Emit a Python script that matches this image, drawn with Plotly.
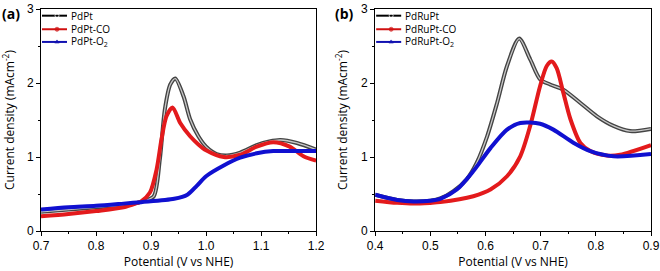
import plotly.graph_objects as go

# ---------------- Panel (a) data ----------------
a_pdpt_x = [0.70, 0.75, 0.80, 0.85, 0.875, 0.89, 0.905, 0.916, 0.925, 0.935, 0.944, 0.959, 0.971, 0.986, 1.00, 1.019, 1.038, 1.062, 1.092, 1.115, 1.135, 1.165, 1.20]
a_pdpt_y = [0.26, 0.29, 0.32, 0.35, 0.38, 0.41, 0.47, 0.97, 1.64, 1.98, 2.06, 1.82, 1.51, 1.28, 1.14, 1.04, 1.02, 1.06, 1.16, 1.21, 1.23, 1.19, 1.10]

a_co_x = [0.70, 0.75, 0.80, 0.85, 0.875, 0.882, 0.898, 0.910, 0.919, 0.928, 0.939, 0.953, 0.971, 0.986, 1.00, 1.032, 1.062, 1.092, 1.122, 1.152, 1.177, 1.20]
a_co_y = [0.20, 0.23, 0.27, 0.32, 0.38, 0.40, 0.52, 0.83, 1.24, 1.55, 1.67, 1.46, 1.28, 1.17, 1.09, 1.00, 1.03, 1.14, 1.20, 1.14, 1.01, 0.95]

a_o2_x = [0.70, 0.75, 0.80, 0.85, 0.882, 0.942, 0.966, 0.983, 1.00, 1.032, 1.062, 1.092, 1.122, 1.16, 1.20]
a_o2_y = [0.29, 0.32, 0.34, 0.37, 0.39, 0.435, 0.49, 0.61, 0.74, 0.885, 0.99, 1.05, 1.08, 1.08, 1.08]

# ---------------- Panel (b) data ----------------
b_pdrupt_x = [0.40, 0.44, 0.47, 0.50, 0.518, 0.542, 0.566, 0.584, 0.603, 0.621, 0.639, 0.661, 0.681, 0.699, 0.717, 0.741, 0.772, 0.802, 0.832, 0.862, 0.90]
b_pdrupt_y = [0.49, 0.42, 0.40, 0.41, 0.44, 0.54, 0.70, 0.92, 1.28, 1.73, 2.23, 2.60, 2.32, 2.05, 1.98, 1.91, 1.73, 1.55, 1.42, 1.35, 1.38]

b_co_x = [0.40, 0.44, 0.47, 0.50, 0.518, 0.578, 0.609, 0.639, 0.663, 0.681, 0.699, 0.711, 0.720, 0.729, 0.741, 0.754, 0.772, 0.79, 0.82, 0.844, 0.90]
b_co_y = [0.41, 0.38, 0.37, 0.38, 0.39, 0.47, 0.56, 0.74, 1.01, 1.42, 1.96, 2.23, 2.29, 2.20, 1.87, 1.51, 1.19, 1.08, 1.02, 1.03, 1.16]

b_o2_x = [0.40, 0.44, 0.47, 0.50, 0.518, 0.548, 0.578, 0.609, 0.639, 0.663, 0.699, 0.723, 0.76, 0.79, 0.832, 0.90]
b_o2_y = [0.49, 0.42, 0.40, 0.41, 0.435, 0.56, 0.81, 1.12, 1.37, 1.46, 1.45, 1.37, 1.19, 1.08, 1.01, 1.04]

a_names = ["PdPt", "PdPt-CO", "PdPt-O<sub>2</sub>"]
b_names = ["PdRuPt", "PdRuPt-CO", "PdRuPt-O<sub>2</sub>"]
panel_labels = ["(a)", "(b)"]

x_title = "Potential (V vs NHE)"
y_title = "Current density (mAcm<sup>-2</sup>)"

RED = "#e31a1c"
BLUE = "#1010d0"
DARK = "#444444"

# figure geometry (pixels)
W, H = 660, 271
ML, MR, MT, MB = 41, 9.3, 9, 39.5
PW = W - ML - MR
A_DOM = [0, (316 - ML) / PW]
B_DOM = [(375 - ML) / PW, 1]

fig = go.Figure()

def add_black(x, y, xa, ya):
    fig.add_trace(go.Scatter(x=x, y=y, mode="lines", line=dict(color=DARK, width=4, shape="spline", smoothing=0.8),
                             xaxis=xa, yaxis=ya, showlegend=False, hoverinfo="skip"))
    fig.add_trace(go.Scatter(x=x, y=y, mode="lines", line=dict(color="#c8c8c8", width=1.3, shape="spline", smoothing=0.8),
                             xaxis=xa, yaxis=ya, showlegend=False, hoverinfo="skip"))

def add_line(x, y, color, xa, ya):
    fig.add_trace(go.Scatter(x=x, y=y, mode="lines", line=dict(color=color, width=4, shape="spline", smoothing=0.8),
                             xaxis=xa, yaxis=ya, showlegend=False))

add_black(a_pdpt_x, a_pdpt_y, "x", "y")
add_line(a_co_x, a_co_y, RED, "x", "y")
add_line(a_o2_x, a_o2_y, BLUE, "x", "y")
add_black(b_pdrupt_x, b_pdrupt_y, "x2", "y2")
add_line(b_co_x, b_co_y, RED, "x2", "y2")
add_line(b_o2_x, b_o2_y, BLUE, "x2", "y2")

# ---- manual legends on a pixel-space overlay axis ----
leg_styles = [("black", "circle-open", "white"), ("#d01010", "circle", "#d01010"), ("#1010b0", "triangle-up", "#1010b0")]
leg_rows = [15.7, 29.3, 42.0]
annotations = []
for x0, names in ((42, a_names), (376, b_names)):
    for (col, sym, mcol), yy, name in zip(leg_styles, leg_rows, names):
        fig.add_trace(go.Scatter(x=[x0, x0 + 15, x0 + 25], y=[yy, yy, yy], mode="lines+markers",
                                 line=dict(color=col, width=2),
                                 marker=dict(symbol=sym, size=[0, 4, 0], color=mcol, line=dict(color=col, width=1)),
                                 xaxis="x3", yaxis="y3", showlegend=False, hoverinfo="skip"))
        annotations.append(dict(text=name, x=x0 + 27, y=yy, xref="x3", yref="y3", xanchor="left", yanchor="middle",
                                showarrow=False, font=dict(family="Open Sans", size=10, color="black")))

annotations.append(dict(text="<b>" + panel_labels[0] + "</b>", x=0, y=1, xref="paper", yref="paper",
                        xanchor="left", yanchor="top", yshift=7, xshift=-ML,
                        showarrow=False, font=dict(family="Open Sans", size=14, color="black")))
annotations.append(dict(text="<b>" + panel_labels[1] + "</b>", x=(333 - ML) / PW, y=1, xref="paper", yref="paper",
                        xanchor="left", yanchor="top", yshift=7,
                        showarrow=False, font=dict(family="Open Sans", size=14, color="black")))

FONT = "Liberation Sans"
TITLE_FONT = "Open Sans"

def xaxis_cfg(domain, rng, anchor):
    return dict(domain=domain, range=rng, dtick=0.1, tick0=rng[0], tickformat=".1f", anchor=anchor,
                showline=True, linecolor="black", linewidth=1, mirror=True, automargin=False,
                ticks="outside", ticklen=4, tickcolor="black", showgrid=False, zeroline=False,
                ticklabeloverflow="allow",
                minor=dict(dtick=0.05, ticks="outside", ticklen=2, tickcolor="black", showgrid=False),
                tickfont=dict(family=FONT, size=12, color="black"),
                title=dict(text=x_title, font=dict(family=TITLE_FONT, size=12, color="black"), standoff=4))

def yaxis_cfg(anchor):
    return dict(domain=[0, 1], range=[0, 3], dtick=1, anchor=anchor,
                showline=True, linecolor="black", linewidth=1, mirror=True, automargin=False,
                ticks="outside", ticklen=4, tickcolor="black", showgrid=False, zeroline=False,
                minor=dict(dtick=0.5, ticks="outside", ticklen=2, tickcolor="black", showgrid=False),
                tickfont=dict(family=FONT, size=12, color="black"),
                title=dict(text=y_title, font=dict(family=TITLE_FONT, size=12, color="black"), standoff=10))

fig.update_layout(
    width=W, height=H,
    margin=dict(l=ML, r=MR, t=MT, b=MB),
    paper_bgcolor="white", plot_bgcolor="rgba(0,0,0,0)",
    xaxis=xaxis_cfg(A_DOM, [0.7, 1.2], "y"),
    yaxis=yaxis_cfg("x"),
    xaxis2=xaxis_cfg(B_DOM, [0.4, 0.9], "y2"),
    yaxis2=yaxis_cfg("x2"),
    xaxis3=dict(domain=[0, 1], range=[ML, W - MR], visible=False, anchor="y3", fixedrange=True),
    yaxis3=dict(domain=[0, 1], range=[H - MB, MT], visible=False, anchor="x3", fixedrange=True),
    showlegend=False,
    hovermode=False,
    annotations=annotations,
)

fig.write_html("out.html", config={"displayModeBar": False, "staticPlot": True},
               post_script="document.body.style.margin='0';document.body.style.overflow='hidden';")
